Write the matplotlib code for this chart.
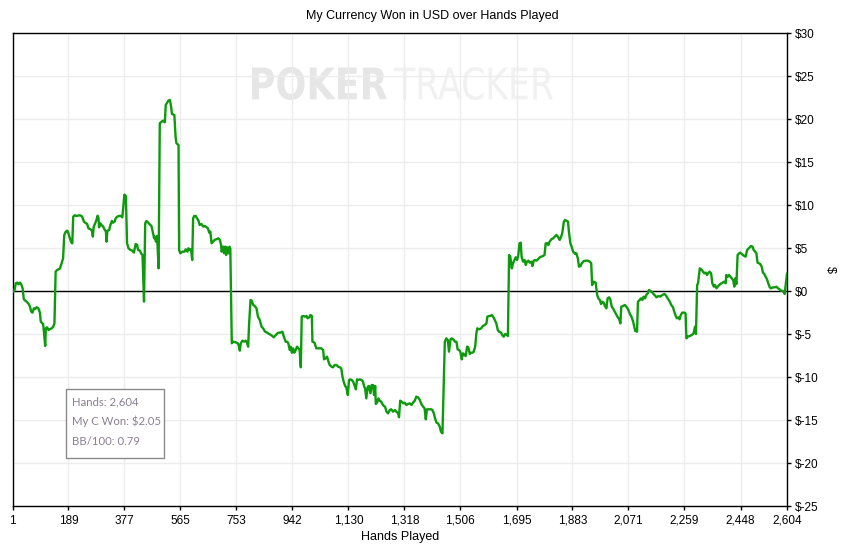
import matplotlib
matplotlib.use('Agg')
import matplotlib.pyplot as plt
from matplotlib.textpath import TextPath
from matplotlib.patches import PathPatch, Rectangle
from matplotlib.font_manager import FontProperties
from matplotlib.transforms import Affine2D, IdentityTransform

plt.rcParams['font.family'] = ['Liberation Sans', 'DejaVu Sans']

# cumulative winnings
hands = [1, 8, 12, 17, 21, 26, 30, 35, 39, 44, 48, 54, 59, 64, 68, 73, 77, 82, 88, 93,
         96, 101, 104, 111, 113, 117, 122, 126, 133, 138, 142, 146, 151, 160, 166, 171, 175, 180, 185, 189,
         194, 199, 202, 205, 210, 216, 222, 227, 233, 236, 241, 245, 252, 256, 263, 268, 271, 274, 279, 283,
         287, 290, 292, 296, 300, 306, 310, 315, 317, 320, 326, 330, 335, 339, 344, 348, 353, 359, 366, 370,
         373, 377, 382, 386, 391, 397, 404, 409, 412, 415, 420, 423, 429, 433, 438,
         443, 447, 451, 457, 462, 468, 474, 477, 480, 483, 487, 492, 496, 502, 507, 513, 516, 521, 525, 530,
         534, 537, 545, 549, 552, 559, 561, 565, 572, 579, 583, 589, 592, 597, 601, 605, 608, 612, 617, 621,
         626, 630, 636, 642, 647, 653, 658, 662, 666, 670, 675, 680, 686, 693, 698, 702, 704, 709, 712, 716,
         719, 722, 727, 730, 733, 738, 742, 751, 758, 761, 765, 768, 774, 780, 785, 789, 793, 796, 801, 805,
         810, 815, 821, 826, 832, 838, 843, 850, 857, 863, 870,
         879, 886, 894, 901, 908, 913, 919, 924, 928, 933, 936, 940, 944, 948, 953, 957, 962, 966, 970, 973,
         978, 984, 989, 993, 998, 1002, 1007, 1009, 1016, 1022, 1031, 1039, 1045, 1048, 1053, 1058, 1063, 1067, 1073, 1078,
         1084, 1090, 1095, 1101, 1106, 1110, 1114, 1119, 1123, 1128, 1132, 1137, 1141, 1146, 1150, 1155, 1159, 1164, 1168, 1174,
         1179, 1183, 1186, 1190, 1195, 1199, 1204, 1208, 1213, 1216, 1220, 1222, 1226, 1231, 1235, 1240, 1244, 1249, 1253, 1258,
         1263, 1269, 1274, 1280, 1286, 1291, 1297, 1300, 1304, 1309, 1314, 1319, 1325, 1330, 1336, 1342, 1347, 1353, 1358, 1364,
         1370, 1375, 1381, 1386, 1390, 1394, 1401, 1408, 1412, 1417, 1421, 1426, 1431, 1437, 1441, 1446,
         1454, 1459, 1464, 1468, 1473, 1477, 1484, 1488, 1493, 1497, 1502, 1506, 1511, 1515, 1520, 1524, 1529, 1533, 1538, 1542,
         1547, 1551, 1556, 1560, 1563, 1569, 1576, 1582, 1588, 1594, 1597, 1603, 1607, 1612, 1616, 1622, 1627, 1632, 1636, 1643,
         1647, 1652, 1657, 1663, 1666, 1670, 1674, 1679, 1683, 1688, 1692, 1697, 1701, 1705, 1709, 1712, 1717, 1722, 1726, 1730,
         1735, 1739, 1745, 1748, 1753, 1757, 1762, 1767, 1773, 1778, 1784, 1789, 1793, 1798, 1802, 1806, 1812, 1818, 1823, 1829,
         1834, 1840, 1845, 1849, 1854, 1858, 1862, 1868, 1871, 1876, 1880, 1885, 1892, 1896, 1901, 1905, 1910, 1914, 1921, 1927,
         1934, 1941, 1946,
         1949, 1954, 1961, 1966, 1970, 1975, 1979, 1983, 1988, 1992, 1997, 2001, 2006, 2010, 2015, 2019, 2025, 2031, 2036, 2040,
         2044, 2047, 2053, 2059, 2064, 2070, 2075, 2081, 2087, 2091, 2094, 2100, 2103, 2109, 2113, 2118, 2122, 2127, 2131, 2136,
         2140, 2145, 2152, 2156, 2160, 2165, 2172, 2178, 2185, 2192, 2196, 2201, 2205, 2210, 2215, 2221, 2225, 2230, 2234, 2239,
         2243, 2247, 2252, 2259, 2263, 2266, 2270, 2277, 2284, 2290, 2295, 2298, 2302, 2305, 2311, 2316, 2322, 2326, 2331, 2335,
         2340, 2344, 2349, 2353, 2358, 2362, 2367, 2371, 2376, 2380, 2387, 2393, 2398, 2400, 2405, 2409, 2414, 2418, 2423, 2427,
         2430, 2434, 2438, 2443, 2447, 2452, 2456, 2461, 2465, 2470, 2474, 2479, 2483, 2488, 2492, 2497, 2501, 2505, 2510, 2514,
         2519, 2523, 2528, 2532, 2537, 2541, 2546, 2550, 2557, 2563, 2568, 2574, 2579, 2584, 2588, 2593, 2596, 2604]

won = [-0.1, 0.16, 0.93, 1.01, 0.81, 1.01, 0.85, 0.35, -0.93, -1.09, -1.2, -1.40, -1.71, -2.37, -2.48, -1.98, -2.06, -1.86, -1.98, -2.48,
       -3.53, -3.72, -3.80, -6.36, -4.30, -4.19, -4.50, -4.42, -4.30, -4.11, -3.72, 2.29, 2.48, 2.63, 3.25, 3.84, 6.55, 6.94, 7.05, 6.74,
       6.16, 5.66, 5.58, 8.68, 8.84, 8.76, 8.80, 8.84, 8.76, 8.60, 8.10, 7.98, 7.83, 7.32, 7.21, 7.05, 6.36, 7.52, 7.91, 8.29,
       8.80, 8.49, 7.44, 7.91, 7.71, 7.52, 7.21, 6.94, 5.77, 7.05, 7.13, 7.71, 8.18, 7.98, 8.10, 8.49, 8.68, 8.76, 8.76, 8.60,
       9.65, 11.24, 11.08, 5.58, 5.00, 4.81, 4.73, 4.50, 5.00, 5.50, 5.39, 4.81, 4.73, 4.42, 4.22,
       -1.2, 7.91, 8.18, 7.98, 7.79, 7.60, 6.67, 6.16, 6.36, 5.77, 6.43, 2.67, 19.53, 19.73, 19.84, 19.65, 21.67, 21.94, 22.17, 22.25,
       21.47, 20.62, 20.50, 17.98, 17.21, 17.01, 4.81, 4.42, 4.61, 4.61, 4.88, 4.61, 5.00, 4.81, 4.88, 3.64, 8.49, 8.76, 8.76, 8.49,
       8.22, 7.71, 7.83, 7.52, 7.60, 7.44, 7.32, 6.82, 6.94, 5.58, 5.77, 5.97, 6.05, 6.16, 5.97, 5.39, 4.61, 5.19, 4.42, 5.19,
       4.22, 5.12, 4.42, 5.19, 5.00, -6.05, -5.85, -5.93, -6.05, -6.24, -6.90, -6.05, -5.74, -5.85, -5.74, -5.97, -6.44, -3.92, -1.01, -1.09,
       -1.59, -1.71, -1.98, -2.95, -3.33, -4.11, -4.30, -4.69, -4.81, -4.96, -5.08,
       -5.35, -5.08, -4.81, -4.81, -4.69, -5.28, -5.86, -5.86, -6.05, -6.83, -6.44, -7.14, -6.63, -7.14, -6.83, -6.44, -6.63, -6.83, -8.84, -2.95,
       -2.87, -2.95, -2.87, -3.14, -3.03, -2.76, -2.87, -5.86, -5.97, -6.63, -6.63, -6.63, -6.83, -7.91, -7.80, -7.60, -8.18, -8.57, -8.76, -8.84,
       -8.57, -8.57, -8.76, -8.84, -8.96, -9.93, -10.51, -11.01, -11.17, -12.06, -10.31, -10.24, -10.31, -10.51, -10.90, -11.40, -10.24, -10.31, -10.24, -10.31,
       -10.51, -11.09, -11.28, -12.45, -11.09, -11.01, -11.86, -10.90, -10.90, -12.06, -11.01, -13.10, -12.95, -12.45, -12.72, -12.83, -13.10, -13.34, -13.41, -14.00,
       -14.19, -13.80, -13.72, -14.00, -13.80, -14.00, -14.19, -14.65, -12.72, -12.83, -13.03, -12.95, -13.22, -13.10, -13.03, -13.22, -12.95, -12.72, -12.25, -12.33,
       -12.64, -13.10, -13.41, -13.61, -14.89, -13.72, -13.72, -13.72, -13.80, -14.19, -14.77, -15.27, -15.35, -15.74, -16.32, -16.52,
       -5.86, -5.47, -5.66, -7.02, -5.59, -5.47, -5.66, -5.86, -5.86, -6.75, -6.83, -7.02, -7.91, -7.21, -7.41, -7.52, -6.44, -6.52, -7.29, -7.14,
       -7.14, -7.02, -6.44, -4.89, -4.31, -4.42, -4.31, -4.03, -3.92, -3.72, -2.95, -2.87, -2.87, -2.76, -2.95, -3.34, -3.72, -4.50, -4.69, -4.81,
       -5.08, -5.28, -4.97, -5.08, -5.20, 4.22, 4.03, 2.67, 3.25, 3.64, 3.95, 3.64, 4.22, 5.58, 5.66, 4.03, 3.45, 3.64, 3.06, 3.45,
       3.56, 3.33, 3.45, 2.94, 3.56, 3.64, 3.56, 3.72, 3.95, 4.03, 4.10, 4.22, 5.58, 5.58, 5.38, 5.77, 6.04, 6.16, 6.35, 6.55,
       6.35, 5.97, 6.35, 6.82, 8.10, 8.29, 8.21, 8.10, 6.93, 5.58, 5.19, 4.61, 4.34, 4.42, 3.83, 2.86, 2.94, 3.25, 3.52, 3.56,
       3.56, 3.45, 3.25,
       0.73, 1.12, 1.00, -0.43, -0.82, -1.01, -1.48, -1.21, -1.32, -1.71, -1.98, -0.82, -0.70, -0.93, -1.79, -1.98, -2.37, -2.76, -3.03, -3.26,
       -3.73, -1.79, -1.71, -1.59, -1.79, -2.10, -2.56, -2.95, -3.53, -4.19, -4.62, -4.69, -1.21, -1.01, -0.82, -1.01, -0.62, -0.82, -0.43, -0.24,
       0.15, 0.04, -0.16, -0.35, -0.47, -0.70, -0.55, -0.62, -0.43, -0.31, -0.43, -0.70, -0.93, -1.21, -1.59, -1.86, -2.37, -2.87, -3.14, -3.03,
       -3.26, -2.76, -2.48, -2.48, -2.56, -5.47, -5.28, -5.20, -5.08, -4.89, -4.11, -4.97, 0.73, 0.93, 2.67, 2.55, 2.28, 2.09, 2.17, 1.90,
       2.17, 2.28, 2.09, 0.93, 0.54, 0.73, 0.35, 0.54, 0.73, 0.85, 1.00, 1.12, 0.93, 1.90, 1.70, 1.90, 1.70, 1.51, 1.31, 0.54,
       1.51, 0.85, 4.22, 4.42, 4.49, 4.34, 4.22, 4.10, 4.03, 4.80, 4.96, 5.11, 5.27, 5.19, 4.80, 4.61, 4.42, 3.33, 3.25, 3.17,
       2.86, 2.17, 2.01, 1.70, 1.39, 0.93, 0.46, 0.35, 0.46, 0.46, 0.54, 0.35, 0.23, 0.08, 0.04, -0.04, -0.31, 2.05]

x_ticks = [1, 189, 377, 565, 753, 942, 1130, 1318, 1506, 1695, 1883, 2071, 2259, 2448, 2604]
y_ticks = [-25, -20, -15, -10, -5, 0, 5, 10, 15, 20, 25, 30]
info_lines = ['Hands: 2,604', 'My C Won: $2.05', 'BB/100: 0.79']

W, H = 865, 546
fig = plt.figure(figsize=(W / 100, H / 100), dpi=100)
ax = fig.add_axes([12.5 / W, 1 - 506.3 / H, 774.5 / W, 473 / H])


def watermark(text, x0, x1, top, bottom, color, weight):
    # text squeezed into a pixel box of the figure
    tp = TextPath((0, 0), text, size=100, prop=FontProperties(family='DejaVu Sans', weight=weight))
    ext = tp.get_extents()
    sx = (x1 - x0) / ext.width
    sy = (bottom - top) / ext.height
    tr = Affine2D().translate(-ext.x0, -ext.y0).scale(sx, sy).translate(x0, H - bottom)
    patch = PathPatch(tr.transform_path(tp), facecolor=color, edgecolor='none',
                      transform=IdentityTransform(), zorder=0.5, clip_on=False)
    ax.add_artist(patch)


watermark('POKER', 252, 387, 67, 100, '#e6e6e6', 'bold')
watermark('TRACKER', 394, 553, 67, 100, '#f1f1f1', 'normal')

ax.plot(hands, won, color='#0d9a0d', lw=1.7, zorder=3)
ax.axhline(0, color='black', lw=1, zorder=2)

ax.set_xlim(1, 2604)
ax.set_ylim(-25, 30)
ax.set_xticks(x_ticks)
ax.set_xticklabels([f'{t:,}' for t in x_ticks])
ax.set_yticks(y_ticks)
ax.set_yticklabels([f'${v}' for v in y_ticks])
ax.yaxis.tick_right()
ax.yaxis.set_label_position('right')
ax.tick_params(length=3, width=1, labelsize=8.5, pad=3, direction='out')
ax.grid(color='#ececec', lw=1, zorder=0)
ax.set_axisbelow(True)
for s in ax.spines.values():
    s.set_linewidth(1)
    s.set_color('black')

ax.set_xlabel('Hands Played', fontsize=9, labelpad=3)
ax.set_ylabel('$', fontsize=9, rotation=-90, labelpad=12)
fig.text(0.5, 1 - 16 / H, 'My Currency Won in USD over Hands Played', ha='center', va='center', fontsize=9)

# summary box
bx0, by0, bx1, by1 = 66.3, 389.3, 163.7, 458.3
ax.add_artist(Rectangle((bx0, H - by1), bx1 - bx0, by1 - by0, transform=IdentityTransform(),
                        facecolor='white', edgecolor='#8a8a8a', lw=1, zorder=5, clip_on=False))
for i, line in enumerate(info_lines):
    fig.text(71.5 / W, 1 - (401.7 + 20 * i) / H, line, ha='left', va='center',
             fontsize=8.2, color='#8a8090', family=['Lato', 'DejaVu Sans'], zorder=6)

fig.savefig('out.png', dpi=100)
